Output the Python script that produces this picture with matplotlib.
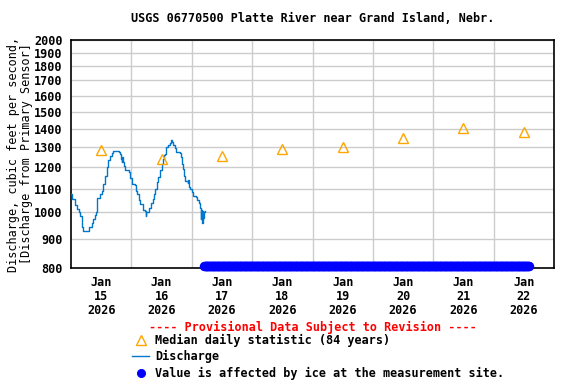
import numpy as np
import pandas as pd
import matplotlib
matplotlib.use('Agg')
import matplotlib.pyplot as plt
from matplotlib.lines import Line2D
from matplotlib.ticker import FixedLocator, NullLocator, FixedFormatter

plt.rcParams['font.family'] = 'DejaVu Sans Mono'
plt.rcParams['font.weight'] = 'bold'

start = pd.Timestamp('2026-01-15 00:00')

# median daily statistic (plotted at noon of each day)
median_days = pd.date_range('2026-01-15 12:00', periods=8, freq='D')
median_vals = [1285, 1240, 1255, 1290, 1302, 1348, 1402, 1383]

# discharge, hours after Jan 15 00:00 -> cfs
q_hours = [0.0, 0.3, 1.6, 2.5, 3.2, 3.6, 4.4, 4.5, 4.9, 5.6, 7.2, 8.3, 8.7, 9.5, 9.9,
           10.3, 10.5, 11.5, 12.3, 12.8, 13.5, 14.2, 14.7, 15.5, 16.3, 16.8, 19.1, 19.5,
           19.9, 20.1, 20.2, 20.7, 21.1, 21.5, 23.1, 23.5, 24.1, 25.3, 25.8, 26.2, 27.0,
           27.4, 28.6, 29.3, 29.8, 29.9, 30.6, 31.0, 31.7, 32.5, 32.8, 33.4, 34.1, 34.7,
           35.4, 36.1, 36.5, 36.9, 37.4, 37.8, 38.6, 39.2, 39.6, 40.0, 40.6, 41.3, 41.7,
           43.3, 43.7, 44.0, 44.5, 44.9, 45.3, 46.5, 46.6, 47.0, 47.3, 48.1, 48.6, 49.7,
           50.2, 50.9, 51.2, 51.5, 51.8, 52.1, 52.4, 52.6, 52.9, 53.3]
q_vals = [1075, 1055, 1030, 1015, 1000, 985, 960, 945, 930, 928, 945, 960, 975, 990, 1000,
          1040, 1060, 1075, 1090, 1120, 1160, 1200, 1235, 1255, 1270, 1278, 1275, 1265,
          1240, 1225, 1250, 1225, 1205, 1185, 1175, 1150, 1120, 1115, 1090, 1075, 1050,
          1035, 1010, 1005, 985, 1000, 1000, 1020, 1040, 1055, 1075, 1100, 1130, 1155,
          1185, 1215, 1240, 1260, 1265, 1300, 1310, 1320, 1340, 1330, 1310, 1295, 1275,
          1270, 1250, 1215, 1190, 1160, 1135, 1125, 1140, 1110, 1100, 1085, 1070, 1065,
          1050, 1040, 1020, 975, 1010, 960, 1005, 980, 1000, 1005]
q_times = [start + pd.Timedelta(hours=h) for h in q_hours]

# ice-affected period
ice_start = pd.Timestamp('2026-01-17 05:00')
ice_end = pd.Timestamp('2026-01-22 14:00')
ice_level = 805

yticks = [800, 900, 1000, 1100, 1200, 1300, 1400, 1500, 1600, 1700, 1800, 1900, 2000]
xlabels = ['Jan\n15\n2026', 'Jan\n16\n2026', 'Jan\n17\n2026', 'Jan\n18\n2026',
           'Jan\n19\n2026', 'Jan\n20\n2026', 'Jan\n21\n2026', 'Jan\n22\n2026']

W, H = 576, 384
fig = plt.figure(figsize=(5.76, 3.84), dpi=100)
L, R, T, B = 71, 554, 40, 268
ax = fig.add_axes([L / W, 1 - B / H, (R - L) / W, (B - T) / H])

ax.set_yscale('log')
ax.set_ylim(800, 2000)
ax.set_xlim(start, pd.Timestamp('2026-01-23 00:00'))

ax.yaxis.set_major_locator(FixedLocator(yticks))
ax.yaxis.set_major_formatter(FixedFormatter([str(v) for v in yticks]))
ax.yaxis.set_minor_locator(NullLocator())
ax.set_xticks(median_days)
ax.set_xticklabels(xlabels, linespacing=1.1)
ax.set_xticks(pd.date_range('2026-01-16', periods=7, freq='D'), minor=True)
ax.tick_params(axis='x', which='major', length=0, pad=6, labelsize=8.5)
ax.tick_params(axis='x', which='minor', length=0)
ax.tick_params(axis='y', length=0, pad=6, labelsize=8.5)
ax.grid(True, which='major', axis='y', color='#cccccc', linewidth=1)
ax.grid(True, which='minor', axis='x', color='#cccccc', linewidth=1)
ax.set_axisbelow(True)

ice_times = pd.date_range(ice_start, ice_end, freq='15min')
ax.plot(ice_times, [ice_level] * len(ice_times), 'o', color='#0000ff', ms=5.8,
        clip_on=False, zorder=3)
ax.plot(q_times, q_vals, color='#0077cc', lw=1, drawstyle='steps-post', zorder=4)
ax.plot(median_days, median_vals, '^', color='#ffa500', mfc='none', ms=7, mew=1, zorder=5)

for s in ax.spines.values():
    s.set_linewidth(1.2)

ax.set_ylabel('Discharge, cubic feet per second,\n[Discharge from Primary Sensor]',
              fontsize=8.5, linespacing=1.0)
ax.yaxis.set_label_coords(-0.079, 0.5)

fig.text((L + R) / 2 / W, 1 - 19 / H, 'USGS 06770500 Platte River near Grand Island, Nebr.',
         ha='center', va='center', fontsize=8.5)
fig.text((L + R) / 2 / W, 1 - 327 / H, '---- Provisional Data Subject to Revision ----',
         ha='center', va='center', fontsize=8.5, color='#ff0000')

def fx(x):
    return x / W

def fy(y):
    return 1 - y / H

fig.add_artist(Line2D([fx(141)], [fy(340)], marker='^', color='#ffa500', mfc='none',
                      ms=7, mew=1, transform=fig.transFigure))
fig.add_artist(Line2D([fx(132), fx(149)], [fy(356), fy(356)], color='#0077cc', lw=1,
                      transform=fig.transFigure))
fig.add_artist(Line2D([fx(141)], [fy(373)], marker='o', color='#0000ff', ms=5.5,
                      transform=fig.transFigure))
fig.text(fx(155), fy(340), 'Median daily statistic (84 years)', va='center', fontsize=8.5)
fig.text(fx(155), fy(356), 'Discharge', va='center', fontsize=8.5)
fig.text(fx(155), fy(373), 'Value is affected by ice at the measurement site.',
         va='center', fontsize=8.5)

fig.savefig('out.png', dpi=100)
